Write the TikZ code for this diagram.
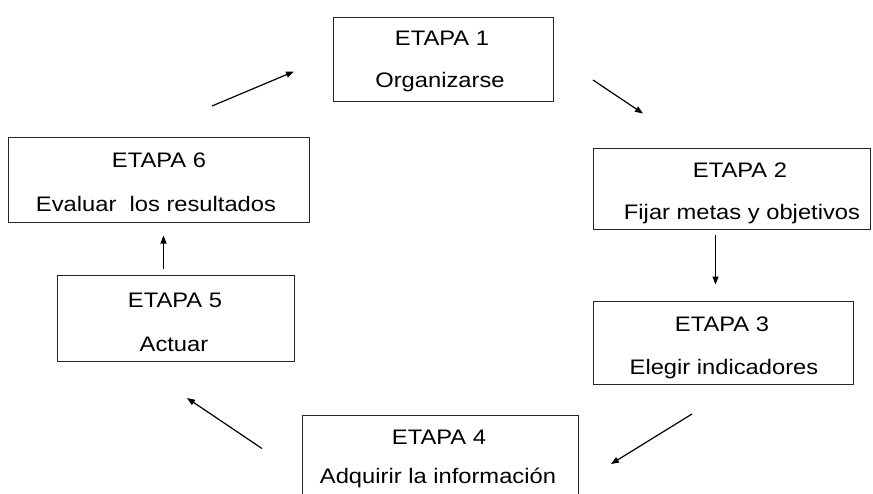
\documentclass[tikz,border=0pt]{standalone}
\usepackage{fontspec}
\setmainfont[FakeStretch=1.13]{Liberation Sans}
\usetikzlibrary{arrows.meta}
\begin{document}
\begin{tikzpicture}[x=1pt,y=-1pt,
  stagebox/.style={draw=black!85,line width=1pt,inner sep=0pt},
  txt/.style={font=\fontsize{21}{25}\selectfont,anchor=base,inner sep=0pt},
  conn/.style={line width=1.2pt,-{Triangle[length=8pt,width=6pt]}}]
\useasboundingbox (0,0) rectangle (873,493);
\clip (0,0) rectangle (873,493);
% boxes
\node[stagebox,minimum width=220pt,minimum height=84pt] (e1) at (443,59) {};
\node[stagebox,minimum width=277pt,minimum height=81pt] (e2) at (731.5,188.5) {};
\node[stagebox,minimum width=260pt,minimum height=83pt] (e3) at (723,342.5) {};
\node[stagebox,minimum width=276pt,minimum height=110pt] (e4) at (440,470) {};
\node[stagebox,minimum width=237pt,minimum height=86pt] (e5) at (175.5,318) {};
\node[stagebox,minimum width=301pt,minimum height=85pt] (e6) at (158.5,179.5) {};
% texts
\node[txt] (e1a) at (442,45) {ETAPA 1};
\node[txt] (e1b) at (440,87) {Organizarse};
\node[txt] (e2a) at (740,177) {ETAPA 2};
\node[txt] (e2b) at (742,219) {Fijar metas y objetivos};
\node[txt] (e3a) at (722,331) {ETAPA 3};
\node[txt] (e3b) at (724,374) {Elegir indicadores};
\node[txt] (e4a) at (439,444) {ETAPA 4};
\node[txt] (e4b) at (438,483) {Adquirir la información};
\node[txt] (e5a) at (175,307) {ETAPA 5};
\node[txt] (e5b) at (174,351) {Actuar};
\node[txt] (e6a) at (159,167) {ETAPA 6};
\node[txt] (e6b) at (156,211) {Evaluar\ \ los resultados};
% arrow ends
\coordinate (a61s) at (212,106);
\coordinate (a61e) at (294,71.5);
\coordinate (a12s) at (593,80);
\coordinate (a12e) at (643,113.5);
\coordinate (a23s) at (715.5,235);
\coordinate (a23e) at (715.5,284.5);
\coordinate (a34s) at (692,414);
\coordinate (a34e) at (611,464);
\coordinate (a45s) at (262,448.5);
\coordinate (a45e) at (187,398);
\coordinate (a56s) at (163.5,268.5);
\coordinate (a56e) at (163.5,235.5);
\draw[conn] (a61s) -- (a61e);
\draw[conn] (a12s) -- (a12e);
\draw[conn] (a23s) -- (a23e);
\draw[conn] (a34s) -- (a34e);
\draw[conn] (a45s) -- (a45e);
\draw[conn] (a56s) -- (a56e);
\end{tikzpicture}
\end{document}
